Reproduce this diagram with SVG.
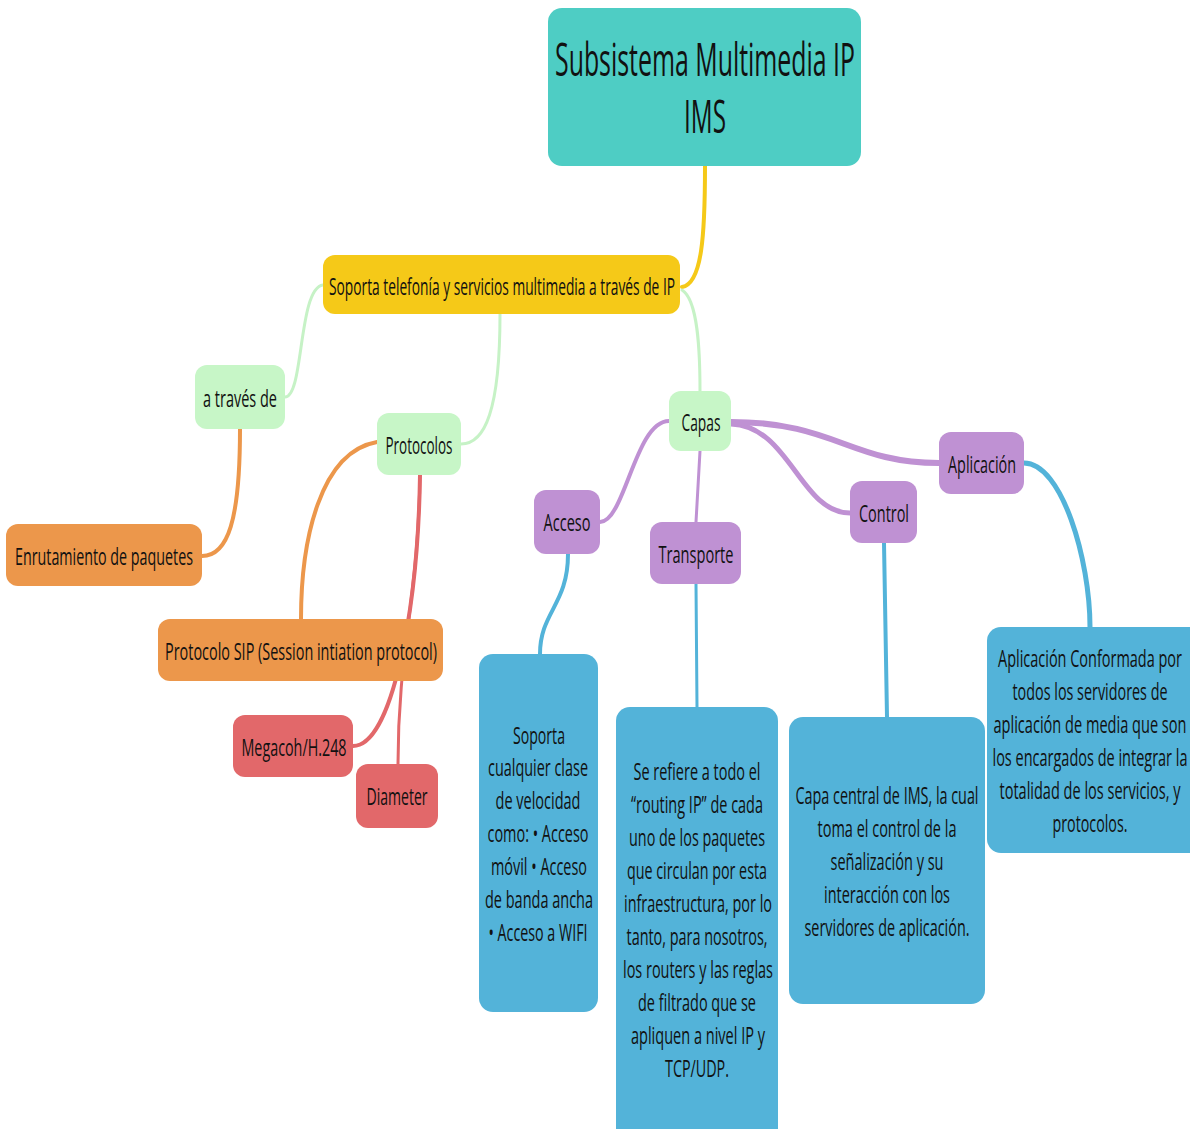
<svg xmlns="http://www.w3.org/2000/svg" width="1190" height="1129" viewBox="0 0 1190 1129">
<style>
text{font-family:"Open Sans","Liberation Sans",sans-serif;fill:#111;text-anchor:middle}
.t{font-size:24px}
.r{font-size:46px}
.c{fill:none;stroke-linecap:round}
.teal{fill:#4ECDC4}.yel{fill:#F5C918}.grn{fill:#C7F6C7}.org{fill:#EC974B}.red{fill:#E2686A}.pur{fill:#BF91D3}.blu{fill:#53B3D9}
</style>
<rect width="1190" height="1129" fill="#fff"/>
<g id="connectors">
<path class="c" d="M705,166 C705,235 702,284 682,287" stroke="#F5C918" stroke-width="4"/>
<path class="c" d="M323,285 C298,288 304,397 285,397" stroke="#C6F2C6" stroke-width="3"/>
<path class="c" d="M500,314 C500,410 485,444 461,444" stroke="#C6F2C6" stroke-width="3"/>
<path class="c" d="M682,290 C698,300 700,350 700,391" stroke="#C6F2C6" stroke-width="3"/>
<path class="c" d="M240,429 C240,520 228,556 202,556" stroke="#EC974B" stroke-width="4"/>
<path class="c" d="M377,442 C320,452 301,540 301,619" stroke="#EC974B" stroke-width="4"/>
<path class="c" d="M420,475 C418,610 392,746 353,746" stroke="#E2686A" stroke-width="4"/>
<path class="c" d="M420,475 C418,600 398,650 398,764" stroke="#E2686A" stroke-width="3"/>
<path class="c" d="M669,421 C635,421 625,522 600,522" stroke="#BF91D3" stroke-width="4"/>
<path class="c" d="M700,451 L696,522" stroke="#BF91D3" stroke-width="3"/>
<path class="c" d="M731,424 C790,426 800,513 850,513" stroke="#BF91D3" stroke-width="5"/>
<path class="c" d="M731,422 C835,422 850,463 939,463" stroke="#BF91D3" stroke-width="6"/>
<path class="c" d="M568,554 C568,605 540,612 540,654" stroke="#53B3D9" stroke-width="4"/>
<path class="c" d="M696,584 L697,707" stroke="#53B3D9" stroke-width="3"/>
<path class="c" d="M884,543 L887,717" stroke="#53B3D9" stroke-width="4"/>
<path class="c" d="M1024,463 C1062,463 1090,560 1090,627" stroke="#53B3D9" stroke-width="5"/>
</g>
<g id="root"><rect class="teal" x="548" y="8" width="313" height="158" rx="14"/>
<text class="r" x="705" y="76" textLength="300" lengthAdjust="spacingAndGlyphs">Subsistema Multimedia IP</text>
<text class="r" x="705" y="133" textLength="42" lengthAdjust="spacingAndGlyphs">IMS</text></g>
<g id="soporta"><rect class="yel" x="323" y="255" width="357" height="59" rx="12"/>
<text class="t" x="502" y="295" textLength="346" lengthAdjust="spacingAndGlyphs">Soporta telefonía y servicios multimedia a través de IP</text></g>
<g id="atraves"><rect class="grn" x="195" y="365" width="90" height="64" rx="12"/>
<text class="t" x="240" y="407" textLength="74" lengthAdjust="spacingAndGlyphs">a través de</text></g>
<g id="protocolos"><rect class="grn" x="377" y="413" width="84" height="62" rx="12"/>
<text class="t" x="419" y="454" textLength="67" lengthAdjust="spacingAndGlyphs">Protocolos</text></g>
<g id="capas"><rect class="grn" x="669" y="391" width="62" height="60" rx="12"/>
<text class="t" x="701" y="431" textLength="39" lengthAdjust="spacingAndGlyphs">Capas</text></g>
<g id="enrutamiento"><rect class="org" x="6" y="524" width="196" height="62" rx="12"/>
<text class="t" x="104" y="565" textLength="178" lengthAdjust="spacingAndGlyphs">Enrutamiento de paquetes</text></g>
<g id="sip"><rect class="org" x="158" y="619" width="285" height="62" rx="12"/>
<text class="t" x="301" y="660" textLength="272" lengthAdjust="spacingAndGlyphs">Protocolo SIP (Session intiation protocol)</text></g>
<g id="megacoh"><rect class="red" x="233" y="715" width="120" height="62" rx="12"/>
<text class="t" x="294" y="756" textLength="105" lengthAdjust="spacingAndGlyphs">Megacoh/H.248</text></g>
<g id="diameter"><rect class="red" x="356" y="764" width="82" height="64" rx="12"/>
<text class="t" x="397" y="805" textLength="61" lengthAdjust="spacingAndGlyphs">Diameter</text></g>
<g id="acceso"><rect class="pur" x="534" y="490" width="66" height="64" rx="12"/>
<text class="t" x="567" y="531" textLength="47" lengthAdjust="spacingAndGlyphs">Acceso</text></g>
<g id="transporte"><rect class="pur" x="650" y="522" width="91" height="62" rx="12"/>
<text class="t" x="696" y="563" textLength="75" lengthAdjust="spacingAndGlyphs">Transporte</text></g>
<g id="control"><rect class="pur" x="850" y="481" width="67" height="62" rx="12"/>
<text class="t" x="884" y="522" textLength="50" lengthAdjust="spacingAndGlyphs">Control</text></g>
<g id="aplicacion"><rect class="pur" x="939" y="432" width="85" height="62" rx="12"/>
<text class="t" x="982" y="473" textLength="68" lengthAdjust="spacingAndGlyphs">Aplicación</text></g>
<g id="acceso-desc"><rect class="blu" x="479" y="654" width="119" height="358" rx="14"/>
<text class="t" x="539" y="744" textLength="52" lengthAdjust="spacingAndGlyphs">Soporta</text>
<text class="t" x="538" y="776" textLength="100" lengthAdjust="spacingAndGlyphs">cualquier clase</text>
<text class="t" x="538" y="809" textLength="85" lengthAdjust="spacingAndGlyphs">de velocidad</text>
<text class="t" x="538" y="842" textLength="101" lengthAdjust="spacingAndGlyphs">como: • Acceso</text>
<text class="t" x="539" y="875" textLength="96" lengthAdjust="spacingAndGlyphs">móvil • Acceso</text>
<text class="t" x="539" y="908" textLength="108" lengthAdjust="spacingAndGlyphs">de banda ancha</text>
<text class="t" x="538" y="941" textLength="99" lengthAdjust="spacingAndGlyphs">• Acceso a WIFI</text></g>
<g id="transporte-desc"><rect class="blu" x="616" y="707" width="162" height="440" rx="14"/>
<text class="t" x="697" y="780" textLength="127" lengthAdjust="spacingAndGlyphs">Se refiere a todo el</text>
<text class="t" x="697" y="813" textLength="132" lengthAdjust="spacingAndGlyphs">“routing IP” de cada</text>
<text class="t" x="697" y="846" textLength="136" lengthAdjust="spacingAndGlyphs">uno de los paquetes</text>
<text class="t" x="697" y="879" textLength="140" lengthAdjust="spacingAndGlyphs">que circulan por esta</text>
<text class="t" x="698" y="912" textLength="148" lengthAdjust="spacingAndGlyphs">infraestructura, por lo</text>
<text class="t" x="697" y="945" textLength="141" lengthAdjust="spacingAndGlyphs">tanto, para nosotros,</text>
<text class="t" x="698" y="978" textLength="150" lengthAdjust="spacingAndGlyphs">los routers y las reglas</text>
<text class="t" x="697" y="1011" textLength="118" lengthAdjust="spacingAndGlyphs">de filtrado que se</text>
<text class="t" x="698" y="1044" textLength="134" lengthAdjust="spacingAndGlyphs">apliquen a nivel IP y</text>
<text class="t" x="697" y="1077" textLength="64" lengthAdjust="spacingAndGlyphs">TCP/UDP.</text></g>
<g id="control-desc"><rect class="blu" x="789" y="717" width="196" height="287" rx="14"/>
<text class="t" x="887" y="804" textLength="183" lengthAdjust="spacingAndGlyphs">Capa central de IMS, la cual</text>
<text class="t" x="887" y="837" textLength="139" lengthAdjust="spacingAndGlyphs">toma el control de la</text>
<text class="t" x="887" y="870" textLength="113" lengthAdjust="spacingAndGlyphs">señalización y su</text>
<text class="t" x="887" y="903" textLength="126" lengthAdjust="spacingAndGlyphs">interacción con los</text>
<text class="t" x="887" y="936" textLength="165" lengthAdjust="spacingAndGlyphs">servidores de aplicación.</text></g>
<g id="aplicacion-desc"><rect class="blu" x="987" y="627" width="220" height="226" rx="14"/>
<text class="t" x="1090" y="667" textLength="184" lengthAdjust="spacingAndGlyphs">Aplicación Conformada por</text>
<text class="t" x="1090" y="700" textLength="155" lengthAdjust="spacingAndGlyphs">todos los servidores de</text>
<text class="t" x="1090" y="733" textLength="193" lengthAdjust="spacingAndGlyphs">aplicación de media que son</text>
<text class="t" x="1090" y="766" textLength="195" lengthAdjust="spacingAndGlyphs">los encargados de integrar la</text>
<text class="t" x="1090" y="799" textLength="181" lengthAdjust="spacingAndGlyphs">totalidad de los servicios, y</text>
<text class="t" x="1090" y="832" textLength="75" lengthAdjust="spacingAndGlyphs">protocolos.</text></g>
</svg>
